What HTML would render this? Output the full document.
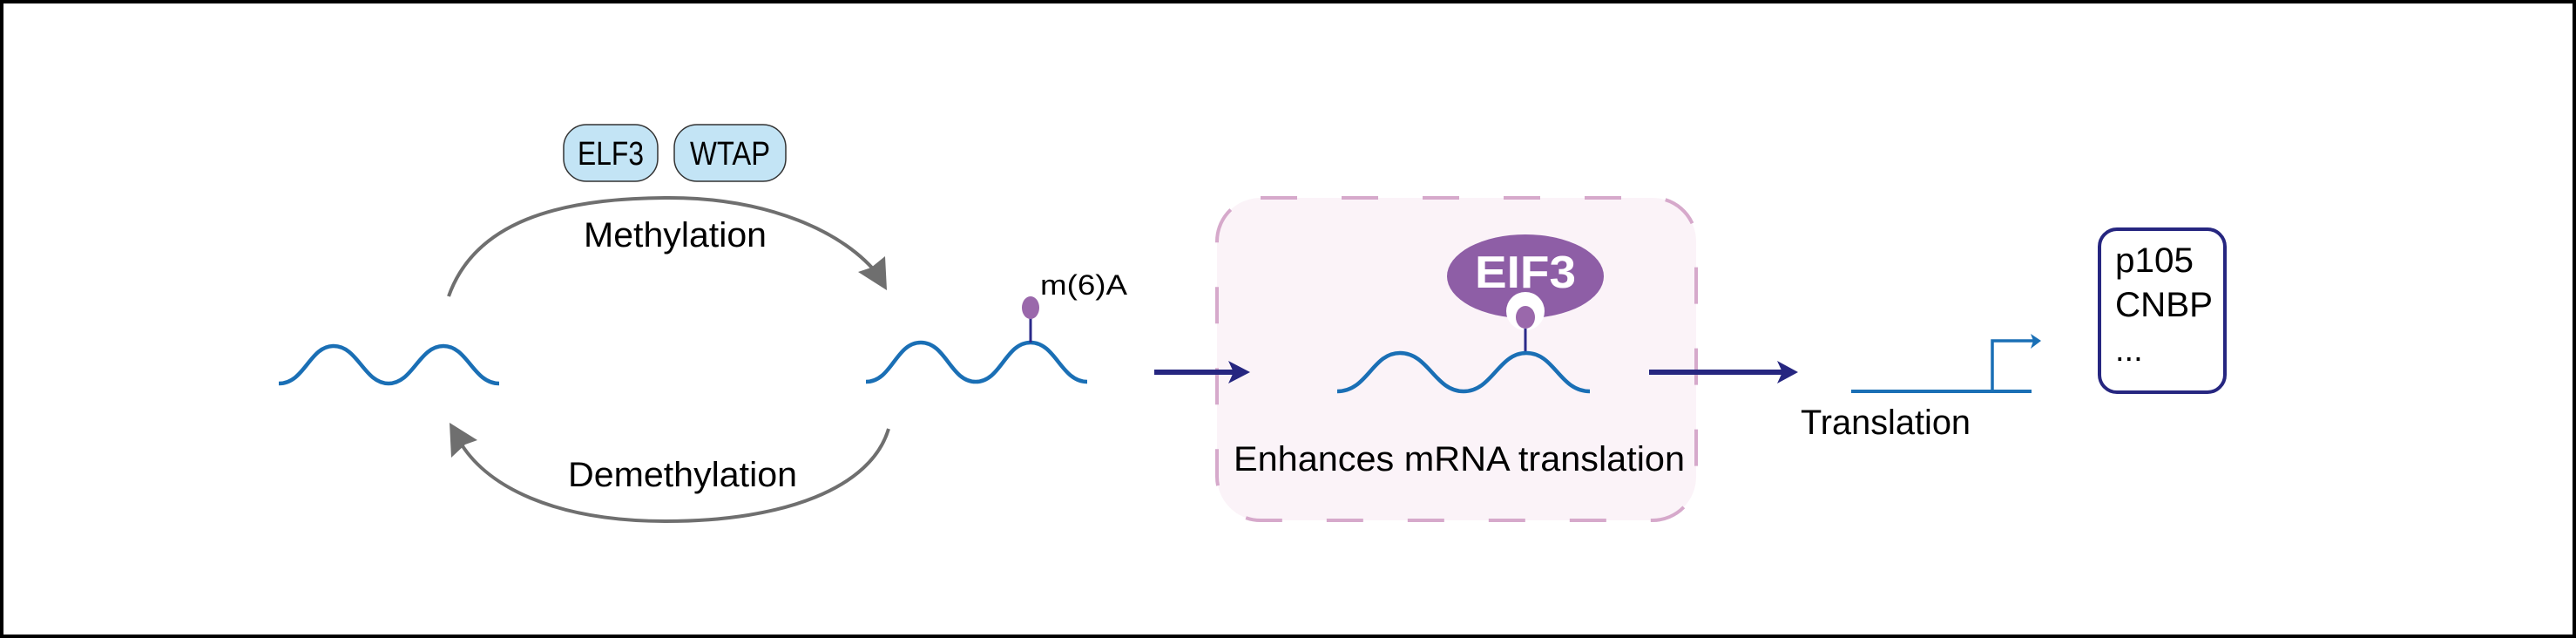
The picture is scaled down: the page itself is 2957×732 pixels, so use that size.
<!DOCTYPE html>
<html><head><meta charset="utf-8"><style>
html,body{margin:0;padding:0;background:#fff}
svg{display:block}
text{font-family:"Liberation Sans",Arial,sans-serif}
</style></head><body>
<svg width="2957" height="732" viewBox="0 0 2957 732" xmlns="http://www.w3.org/2000/svg">
<rect x="2" y="2" width="2953" height="728" fill="#fff" stroke="#000" stroke-width="4"/>

<!-- pills -->
<rect x="647" y="143" width="108" height="65" rx="26" fill="#c3e4f5" stroke="#333" stroke-width="1.5"/>
<text x="701" y="189" font-size="38" text-anchor="middle" textLength="76" lengthAdjust="spacingAndGlyphs">ELF3</text>
<rect x="774" y="143" width="128" height="65" rx="26" fill="#c3e4f5" stroke="#333" stroke-width="1.5"/>
<text x="838" y="189" font-size="38" text-anchor="middle" textLength="92" lengthAdjust="spacingAndGlyphs">WTAP</text>

<!-- arcs -->
<path d="M515,340 C545,255 640,227 768,227 C880,227 970,265 1010,318" fill="none" stroke="#6f6f6f" stroke-width="4"/>
<polygon points="1018,333 985,312 1000,307 1016,294" fill="#6f6f6f"/>
<text x="670" y="283" font-size="40" textLength="210" lengthAdjust="spacingAndGlyphs">Methylation</text>

<path d="M1020,492 C1000,560 900,598 765,598 C640,598 555,560 524,500" fill="none" stroke="#6f6f6f" stroke-width="4"/>
<polygon points="516,485 548,505 534,510 518,525" fill="#6f6f6f"/>
<text x="652" y="558" font-size="40" textLength="263" lengthAdjust="spacingAndGlyphs">Demethylation</text>

<!-- left wave -->
<path d="M320,440 C350,440 355,397 383,397 C411,397 418,440 446,440 C474,440 481,397 509,397 C537,397 543,440 573,440" fill="none" stroke="#1a6fb5" stroke-width="4.5"/>

<!-- right wave -->
<path d="M994,438 C1024,438 1028,393 1057,393 C1086,393 1091,438 1120,438 C1149,438 1154,393 1183,393 C1212,393 1218,438 1248,438" fill="none" stroke="#1a6fb5" stroke-width="4.5"/>
<line x1="1183" y1="393" x2="1183" y2="365" stroke="#2b2a8a" stroke-width="3"/>
<ellipse cx="1183" cy="353" rx="10" ry="13" fill="#9a68ab"/>
<text x="1194" y="338" font-size="32" textLength="100" lengthAdjust="spacingAndGlyphs">m(6)A</text>

<!-- dashed box -->
<rect x="1397" y="227" width="550" height="370" rx="50" fill="#fbf3f8" stroke="#d6a9cb" stroke-width="4" stroke-dasharray="42 51"/>

<!-- arrow to box -->
<line x1="1325" y1="427" x2="1418" y2="427" stroke="#262680" stroke-width="6"/>
<polygon points="1435,427 1410,414 1416,427 1410,440" fill="#262680"/>

<ellipse cx="1751" cy="317" rx="90" ry="48" fill="#8e5ea6"/>
<text x="1751" y="330" font-size="52" font-weight="bold" fill="#fff" text-anchor="middle" textLength="116" lengthAdjust="spacingAndGlyphs">EIF3</text>
<circle cx="1751" cy="357" r="22" fill="#fff"/>
<ellipse cx="1751" cy="364" rx="11" ry="13" fill="#9a68ab"/>
<line x1="1751" y1="377" x2="1751" y2="405" stroke="#2b2a8a" stroke-width="3"/>
<path d="M1535,449 C1570,449 1575,405 1607,405 C1640,405 1647,449 1680,449 C1713,449 1720,405 1752,405 C1785,405 1790,449 1825,449" fill="none" stroke="#1a6fb5" stroke-width="4.5"/>
<text x="1416" y="540" font-size="40" textLength="518" lengthAdjust="spacingAndGlyphs">Enhances mRNA translation</text>

<!-- arrow out -->
<line x1="1893" y1="427" x2="2048" y2="427" stroke="#262680" stroke-width="6"/>
<polygon points="2064,427 2040,414 2046,427 2040,440" fill="#262680"/>

<!-- translation -->
<line x1="2125" y1="449" x2="2332" y2="449" stroke="#1a6fb5" stroke-width="4"/>
<polyline points="2287,449 2287,391 2334,391" fill="none" stroke="#1a6fb5" stroke-width="3.5"/>
<polygon points="2343,391 2331,383 2334,391 2331,400" fill="#1a6fb5"/>
<text x="2067" y="498" font-size="40" textLength="195" lengthAdjust="spacingAndGlyphs">Translation</text>

<!-- product box -->
<rect x="2410" y="263" width="144" height="187" rx="20" fill="#fff" stroke="#262680" stroke-width="4"/>
<text x="2428" y="312" font-size="40" textLength="90" lengthAdjust="spacingAndGlyphs">p105</text>
<text x="2428" y="363" font-size="40" textLength="112" lengthAdjust="spacingAndGlyphs">CNBP</text>
<text x="2428" y="414" font-size="38">...</text>
</svg>
</body></html>
